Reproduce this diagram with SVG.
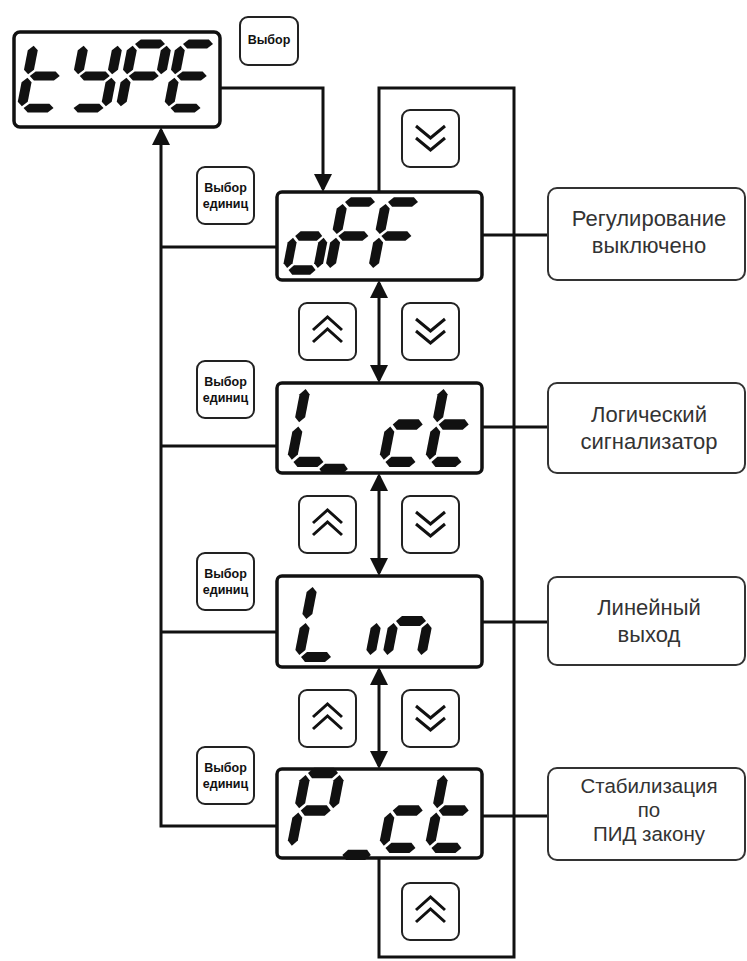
<svg xmlns="http://www.w3.org/2000/svg" width="747" height="961" viewBox="0 0 747 961">
<style>
.disp{fill:#fff;stroke:#111;stroke-width:3.5}
.btn{fill:#fff;stroke:#222;stroke-width:2}
.lbl{fill:#fff;stroke:#333;stroke-width:2}
.ln{fill:none;stroke:#111;stroke-width:3}
.seg{fill:#111}
.chev{fill:none;stroke:#111;stroke-width:3}
.bt{font-family:"Liberation Sans",Arial,sans-serif;font-weight:bold;font-size:12.5px;fill:#111;text-anchor:middle}
.lt{font-family:"Liberation Sans",Arial,sans-serif;font-size:22px;fill:#333;text-anchor:middle}
.lt3{font-size:20.5px}
</style>
<defs>
<marker id="ah" viewBox="0 0 18 18" refX="15" refY="9" markerWidth="18" markerHeight="18" markerUnits="userSpaceOnUse" orient="auto-start-reverse"><path d="M0,0 L18,9 L0,18 z" fill="#111"/></marker>
<polygon id="sa" points="2,0 7,-5 27,-5 32,0 27,5 7,5"/>
<polygon id="sg" points="2,36 7,31 27,31 32,36 27,41 7,41"/>
<polygon id="sd" points="2,72 7,67 27,67 32,72 27,77 7,77"/>
<polygon id="sf" points="0,2 5,7 5,29 0,34 -5,29 -5,7"/>
<polygon id="se" points="0,38 5,43 5,65 0,70 -5,65 -5,43"/>
<polygon id="sb" points="34,2 39,7 39,29 34,34 29,29 29,7"/>
<polygon id="sc" points="34,38 39,43 39,65 34,70 29,65 29,43"/>
<g id="bDown"><rect class="btn" x="0" y="0" width="57" height="57" rx="8"/><path class="chev" d="M14,16 L28.5,28 L43,16 M14,28 L28.5,40 L43,28"/></g>
<g id="bUp"><rect class="btn" x="0" y="0" width="57" height="57" rx="8"/><path class="chev" d="M14,27 L28.5,14 L43,27 M14,39 L28.5,26 L43,39"/></g>
<g id="bSel"><rect class="btn" x="0" y="0" width="57" height="57" rx="8"/><text class="bt" x="28.5" y="25">Выбор</text><text class="bt" x="28.5" y="41">единиц</text></g>
</defs>

<g id="connectors">
<path class="ln" d="M220,88 H323 V189" marker-end="url(#ah)"/>
<path class="ln" d="M277,826 H161 V130" marker-end="url(#ah)"/>
<path class="ln" d="M161,247 H277 M161,446 H277 M161,632 H277"/>
<path class="ln" d="M379,192 V88 H514 V957 H379 V858"/>
<line class="ln" x1="379" y1="283" x2="379" y2="380" marker-start="url(#ah)" marker-end="url(#ah)"/>
<line class="ln" x1="379" y1="476" x2="379" y2="573" marker-start="url(#ah)" marker-end="url(#ah)"/>
<line class="ln" x1="379" y1="670" x2="379" y2="766" marker-start="url(#ah)" marker-end="url(#ah)"/>
<path class="ln" d="M482,235 H548 M482,427 H548 M482,622 H548 M482,816 H548"/>
</g>

<g id="d-type">
<rect class="disp" x="14" y="32" width="206" height="95" rx="6"/>
<g class="seg" transform="translate(34,44) skewX(-11) scale(1,0.89)"><use href="#sf"/><use href="#se"/><use href="#sg"/><use href="#sd"/></g>
<g class="seg" transform="translate(84,44) skewX(-11) scale(1,0.89)"><use href="#sf"/><use href="#sb"/><use href="#sg"/><use href="#sc"/><use href="#sd"/></g>
<g class="seg" transform="translate(133,44) skewX(-11) scale(1,0.89)"><use href="#sa"/><use href="#sf"/><use href="#sb"/><use href="#sg"/><use href="#se"/></g>
<g class="seg" transform="translate(181,44) skewX(-11) scale(1,0.89)"><use href="#sa"/><use href="#sf"/><use href="#sg"/><use href="#se"/><use href="#sd"/></g>
</g>

<g id="btn-select"><rect class="btn" x="240" y="17" width="58" height="48" rx="8"/><text class="bt" x="269" y="44">Выбор</text></g>

<g id="btn-down-top"><use href="#bDown" x="402" y="110"/></g>

<g id="d-off">
<rect class="disp" x="277" y="192" width="205" height="88" rx="5"/>
<g class="seg" transform="translate(300,202) skewX(-11) scale(0.9,0.944)"><use href="#sg"/><use href="#se"/><use href="#sc"/><use href="#sd"/></g>
<g class="seg" transform="translate(343,202) skewX(-11) scale(1,0.944)"><use href="#sa"/><use href="#sf"/><use href="#sg"/><use href="#se"/></g>
<g class="seg" transform="translate(386,202) skewX(-11) scale(1,0.944)"><use href="#sa"/><use href="#sf"/><use href="#sg"/><use href="#se"/></g>
</g>
<g id="sel-1"><use href="#bSel" x="197" y="167"/></g>
<g id="lbl-1"><rect class="lbl" x="548" y="188" width="197" height="92" rx="9"/><text class="lt" x="649" y="226">Регулирование</text><text class="lt" x="649" y="253">выключено</text></g>

<g id="btn-up-1"><use href="#bUp" x="299" y="303"/></g>
<g id="btn-down-1"><use href="#bDown" x="402" y="303"/></g>

<g id="d-lct">
<rect class="disp" x="277" y="383" width="205" height="90" rx="5"/>
<g class="seg" transform="translate(306,387) skewX(-11) scale(1,1.04)"><use href="#sf"/><use href="#se"/><use href="#sd"/></g>
<g class="seg" transform="translate(332,394) skewX(-11) scale(0.95,1.04)"><use href="#sd"/></g>
<g class="seg" transform="translate(398,387) skewX(-11) scale(1,1.04)"><use href="#sg"/><use href="#se"/><use href="#sd"/></g>
<g class="seg" transform="translate(444,387) skewX(-11) scale(1,1.04)"><use href="#sf"/><use href="#sg"/><use href="#se"/><use href="#sd"/></g>
</g>
<g id="sel-2"><use href="#bSel" x="197" y="361"/></g>
<g id="lbl-2"><rect class="lbl" x="548" y="383" width="197" height="90" rx="9"/><text class="lt" x="649" y="422">Логический</text><text class="lt" x="649" y="449">сигнализатор</text></g>

<g id="btn-up-2"><use href="#bUp" x="299" y="496"/></g>
<g id="btn-down-2"><use href="#bDown" x="402" y="496"/></g>

<g id="d-lin">
<rect class="disp" x="277" y="576" width="205" height="91" rx="5"/>
<g class="seg" transform="translate(313,585) skewX(-11)"><use href="#sf"/><use href="#se"/><use href="#sd"/></g>
<g class="seg" transform="translate(384,585) skewX(-11)"><use href="#se"/></g>
<g class="seg" transform="translate(401,585) skewX(-11)"><use href="#sg"/><use href="#se"/><use href="#sc"/></g>
</g>
<g id="sel-3"><use href="#bSel" x="197" y="553"/></g>
<g id="lbl-3"><rect class="lbl" x="548" y="577" width="197" height="88" rx="9"/><text class="lt" x="649" y="615">Линейный</text><text class="lt" x="649" y="642">выход</text></g>

<g id="btn-up-3"><use href="#bUp" x="299" y="690"/></g>
<g id="btn-down-3"><use href="#bDown" x="402" y="690"/></g>

<g id="d-pct">
<rect class="disp" x="277" y="769" width="205" height="89" rx="5"/>
<g class="seg" transform="translate(306,773) skewX(-11) scale(1,1.04)"><use href="#sa"/><use href="#sf"/><use href="#sb"/><use href="#sg"/><use href="#se"/></g>
<g class="seg" transform="translate(355,780) skewX(-11) scale(0.95,1.04)"><use href="#sd"/></g>
<g class="seg" transform="translate(398,773) skewX(-11) scale(1,1.04)"><use href="#sg"/><use href="#se"/><use href="#sd"/></g>
<g class="seg" transform="translate(444,773) skewX(-11) scale(1,1.04)"><use href="#sf"/><use href="#sg"/><use href="#se"/><use href="#sd"/></g>
</g>
<g id="sel-4"><use href="#bSel" x="197" y="747"/></g>
<g id="lbl-4"><rect class="lbl" x="548" y="768" width="197" height="92" rx="9"/><text class="lt lt3" x="649" y="793">Стабилизация</text><text class="lt lt3" x="649" y="817">по</text><text class="lt lt3" x="649" y="841">ПИД закону</text></g>

<g id="btn-up-bottom"><use href="#bUp" x="402" y="883"/></g>
</svg>
